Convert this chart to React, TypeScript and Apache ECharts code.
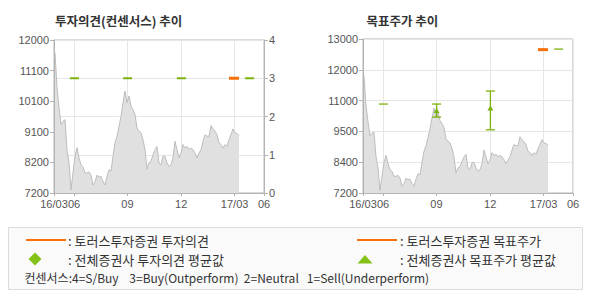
import React, { useEffect, useRef } from 'react';
import * as echarts from 'echarts';

// ---- data ----
const xTickPositions = [0, 10, 36.7, 63.6, 90.3, 105];
const xTickLabels = ['16/03', '06', '09', '12', '17/03', '06'];

const priceLeftTickLabels = ['7200', '8200', '9100', '10100', '11100', '12000'];
const priceRightTickLabels = ['7200', '8400', '9500', '11000', '12000', '13000'];

const closePrices = [
  11610, 10500, 9880, 9350, 9450, 9500, 8560, 8150, 7300, 7830,
  8350, 8620, 8300, 8080, 8020, 7830, 7830, 7860, 7760, 7450,
  7550, 7760, 7700, 7720, 7560, 7450, 7720, 7930, 7880, 8350,
  8770, 8980, 9290, 9610, 10030, 10400, 10030, 10240, 9920, 9820,
  9660, 9240, 9140, 9090, 8870, 8560, 7950, 8150, 8190, 8400,
  8560, 8660, 8140, 8080, 8350, 8350, 8140, 8030, 8080, 8300,
  8820, 8560, 8300, 8450, 8720, 8610, 8660, 8560, 8610, 8560,
  8450, 8300, 8450, 8560, 8820, 9030, 8980, 8980, 9320, 9210,
  9140, 9030, 8770, 8720, 8610, 8720, 8660, 8870, 9030, 9210,
  9080, 9070, 9000,
];

const consensusOpinionX = [10.2, 36.8, 63.7, 97.8];
const consensusOpinion = [3, 3, 3, 3];
const torusOpinionX = [90];
const torusOpinion = [3];

const targetRangeX = [10.2, 36.8, 63.7, 97.8];
const targetHigh = [10550, 10550, 11040, 12620];
const targetLow = [10550, 10060, 9580, 12620];
const targetAvgX = [36.8, 63.7];
const targetAvg = [10310, 10400];
const torusTargetX = [90];
const torusTarget = [12600];

// ---- styles ----
const ORANGE = '#f7700a';
const GREEN = '#7cb20c';
const GREEN_LEGEND = '#84c21a';
const AXIS = '#b4b4b4';
const GRID = '#e6e6e6';
const FONT_KR = '"Noto Sans CJK KR", sans-serif';
const labelStyle = { color: '#555', fontSize: 11, fontFamily: '"Liberation Sans", Arial, sans-serif' };

function evenTicks(min: number, max: number, n: number) {
  const out: number[] = [];
  for (let k = 0; k <= n; k++) out.push(min + (k * (max - min)) / n);
  return out;
}

function nearestIndex(arr: number[], v: number) {
  let best = 0;
  for (let k = 1; k < arr.length; k++) if (Math.abs(arr[k] - v) < Math.abs(arr[best] - v)) best = k;
  return best;
}

export default function App() {
  const ref = useRef<HTMLDivElement>(null);

  useEffect(() => {
    if (!ref.current) return;
    const chart = echarts.init(ref.current, undefined, { renderer: 'svg' });

    const priceData = closePrices.map((v, i) => [i + 0.5, v]);
    const leftTicks = evenTicks(7200, 12000, priceLeftTickLabels.length - 1);
    const rightTicks = evenTicks(7200, 13000, priceRightTickLabels.length - 1);

    const xAxisFor = (gridIndex: number) => ({
      type: 'value',
      gridIndex,
      min: 0,
      max: 105,
      axisLine: { show: true, onZero: false, lineStyle: { color: AXIS } },
      axisTick: { show: true, customValues: xTickPositions, length: 3, lineStyle: { color: AXIS } },
      axisLabel: {
        customValues: xTickPositions,
        formatter: (v: number) => xTickLabels[nearestIndex(xTickPositions, v)],
        margin: 5,
        ...labelStyle,
      },
      splitLine: { show: true, lineStyle: { color: GRID } },
    });

    const priceSeries = (xAxisIndex: number, yAxisIndex: number) => ({
      type: 'line',
      xAxisIndex,
      yAxisIndex,
      data: priceData,
      symbol: 'none',
      showSymbol: false,
      lineStyle: { color: '#bdbdbd', width: 1 },
      areaStyle: { color: '#e0e0e0', opacity: 1, origin: 'start' },
      z: 1,
    });

    const legendText = (x: number, y: number, text: string, size: number) => ({
      type: 'text', x, y,
      style: { text, font: `${size}px ${FONT_KR}`, fill: '#333', verticalAlign: 'middle' },
    });

    chart.setOption({
      animation: false,
      backgroundColor: '#fff',
      grid: [
        { left: 54, top: 40, width: 210, height: 153, show: true, borderColor: AXIS, borderWidth: 1, backgroundColor: 'transparent' },
        { left: 363, top: 39, width: 210, height: 154, show: true, borderColor: AXIS, borderWidth: 1, backgroundColor: 'transparent' },
      ],
      xAxis: [xAxisFor(0), xAxisFor(1)],
      yAxis: [
        {
          type: 'value', gridIndex: 0, position: 'left', min: 7200, max: 12000,
          axisLine: { show: true, lineStyle: { color: AXIS } },
          axisTick: { show: true, customValues: leftTicks, length: 4, lineStyle: { color: AXIS } },
          axisLabel: {
            customValues: leftTicks,
            formatter: (v: number) => priceLeftTickLabels[nearestIndex(leftTicks, v)],
            margin: 5, ...labelStyle,
          },
          splitLine: { show: false },
        },
        {
          type: 'value', gridIndex: 0, position: 'right', min: 0, max: 4, interval: 1,
          axisLine: { show: true, lineStyle: { color: AXIS } },
          axisTick: { show: true, length: 4, lineStyle: { color: AXIS } },
          axisLabel: { margin: 5, ...labelStyle },
          splitLine: { show: true, lineStyle: { color: GRID } },
        },
        {
          type: 'value', gridIndex: 1, position: 'left', min: 7200, max: 13000,
          axisLine: { show: true, lineStyle: { color: AXIS } },
          axisTick: { show: true, customValues: rightTicks, length: 4, lineStyle: { color: AXIS } },
          axisLabel: {
            customValues: rightTicks,
            formatter: (v: number) => priceRightTickLabels[nearestIndex(rightTicks, v)],
            margin: 5, ...labelStyle,
          },
          splitLine: { show: true, lineStyle: { color: GRID } },
        },
      ],
      series: [
        priceSeries(0, 0),
        {
          type: 'scatter', xAxisIndex: 0, yAxisIndex: 1, symbol: 'rect', symbolSize: [9, 2],
          itemStyle: { color: GREEN, opacity: 1 },
          data: consensusOpinionX.map((x, k) => [x, consensusOpinion[k]]), z: 3,
        },
        {
          type: 'scatter', xAxisIndex: 0, yAxisIndex: 1, symbol: 'rect', symbolSize: [10, 3],
          itemStyle: { color: ORANGE, opacity: 1 },
          data: torusOpinionX.map((x, k) => [x, torusOpinion[k]]), z: 4,
        },
        priceSeries(1, 2),
        {
          type: 'custom', xAxisIndex: 1, yAxisIndex: 2,
          encode: { x: 0, y: [1, 2] },
          data: targetRangeX.map((x, k) => [x, targetLow[k], targetHigh[k]]),
          renderItem: (params: any, api: any) => {
            const x = api.value(0);
            const lo = api.value(1);
            const hi = api.value(2);
            const top = api.coord([x, hi]);
            const bot = api.coord([x, lo]);
            const hw = 4.5;
            const style = { stroke: GREEN, lineWidth: 1.3, fill: null };
            const children: any[] = [
              { type: 'line', shape: { x1: top[0] - hw, y1: top[1], x2: top[0] + hw, y2: top[1] }, style },
            ];
            if (hi !== lo) {
              children.push({ type: 'line', shape: { x1: top[0], y1: top[1], x2: bot[0], y2: bot[1] }, style });
              children.push({ type: 'line', shape: { x1: bot[0] - hw, y1: bot[1], x2: bot[0] + hw, y2: bot[1] }, style });
            }
            return { type: 'group', children };
          },
          z: 3,
        },
        {
          type: 'scatter', xAxisIndex: 1, yAxisIndex: 2, symbol: 'triangle', symbolSize: [6, 5],
          itemStyle: { color: GREEN, opacity: 1 },
          data: targetAvgX.map((x, k) => [x, targetAvg[k]]), z: 4,
        },
        {
          type: 'scatter', xAxisIndex: 1, yAxisIndex: 2, symbol: 'rect', symbolSize: [10, 3],
          itemStyle: { color: ORANGE, opacity: 1 },
          data: torusTargetX.map((x, k) => [x, torusTarget[k]]), z: 4,
        },
      ],
      graphic: [
        { type: 'text', x: 55, y: 20.5, style: { text: '투자의견(컨센서스) 추이', font: `bold 12.5px ${FONT_KR}`, fill: '#333', verticalAlign: 'middle' } },
        { type: 'text', x: 366.5, y: 20.5, style: { text: '목표주가 추이', font: `bold 12.5px ${FONT_KR}`, fill: '#333', verticalAlign: 'middle' } },
        { type: 'rect', shape: { x: 8.5, y: 227.5, width: 574, height: 62 }, style: { fill: '#fafafa', stroke: '#dcdcdc', lineWidth: 1 } },
        { type: 'line', shape: { x1: 26, y1: 240, x2: 66, y2: 240 }, style: { stroke: ORANGE, lineWidth: 2 } },
        legendText(68, 240.5, ': 토러스투자증권 투자의견', 13),
        { type: 'line', shape: { x1: 357, y1: 240, x2: 397, y2: 240 }, style: { stroke: ORANGE, lineWidth: 2 } },
        legendText(400, 240.5, ': 토러스투자증권 목표주가', 13),
        { type: 'polygon', shape: { points: [[35, 252.5], [41.5, 259], [35, 265.5], [28.5, 259]] }, style: { fill: GREEN_LEGEND } },
        legendText(68, 259.5, ': 전체증권사 투자의견 평균값', 13),
        { type: 'polygon', shape: { points: [[365, 255], [372.5, 263.5], [357.5, 263.5]] }, style: { fill: GREEN_LEGEND } },
        legendText(400, 259.5, ': 전체증권사 목표주가 평균값', 13),
        legendText(24.5, 277.5, '컨센서스:4=S/Buy    3=Buy(Outperform)  2=Neutral   1=Sell(Underperform)', 12),
      ],
    });

    return () => chart.dispose();
  }, []);

  return (
    <div
      ref={ref}
      style={{ position: 'fixed', left: 0, top: 0, width: 590, height: 300, background: '#fff' }}
    />
  );
}
